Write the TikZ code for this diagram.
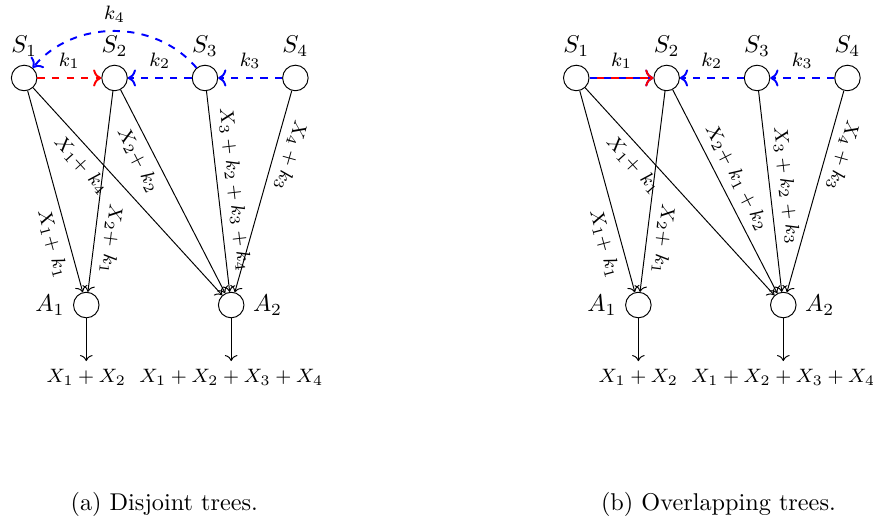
\documentclass[tikz,border=0pt]{standalone}
\usepackage{xcolor}
\usepackage{tikz}
\usetikzlibrary{arrows.meta, positioning}

\begin{document}
\begin{tikzpicture}[
    site/.style={circle, draw, minimum size=0.37cm, inner sep=0pt},
    flow/.style={->},
    link/.style={->, thick, dashed},
    klbl/.style={above, font=\footnotesize, text=black},
    lbl/.style={font=\footnotesize, sloped, allow upside down},
    result/.style={font=\footnotesize}
]
    \useasboundingbox (0,0) rectangle (12.65,7.59);

    % (a) disjoint trees
    \node[site, label=above:$S_1$] (ds1) at (0.35,6.46) {};
    \node[site, label=above:$S_2$] (ds2) at (1.66,6.46) {};
    \node[site, label=above:$S_3$] (ds3) at (2.97,6.46) {};
    \node[site, label=above:$S_4$] (ds4) at (4.28,6.46) {};
    \node[site, label=left:$A_1$] (da1) at (1.25,3.17) {};
    \node[site, label=right:$A_2$] (da2) at (3.35,3.17) {};
    \node[result, below=0.62cm of da1] (dy1) {$X_1 + X_2$};
    \node[result, below=0.62cm of da2] (dy2) {$X_1 + X_2 + X_3 + X_4$};

    \draw[link, red] (ds1) -- node[klbl] {$k_1$} (ds2);
    \draw[link, blue] (ds3) -- node[klbl] {$k_2$} (ds2);
    \draw[link, blue] (ds4) -- node[klbl] {$k_3$} (ds3);
    \draw[link, blue] (ds3) to[bend right=50] node[klbl] {$k_4$} (ds1);

    \draw[flow] (ds1) -- node[lbl, below, pos=0.74] {$X_1$+ $k_1$} (da1);
    \draw[flow] (ds1) -- node[lbl, below, pos=0.32] {$X_1$+ $k_4$} (da2);
    \draw[flow] (ds2) -- node[lbl, above, pos=0.73] {$X_2$+ $k_1$} (da1);
    \draw[flow] (ds2) -- node[lbl, below, pos=0.31] {$X_2$+ $k_2$} (da2);
    \draw[flow] (ds3) -- node[lbl, above, pos=0.5] {$X_3 + k_2 + k_3 + k_4$} (da2);
    \draw[flow] (ds4) -- node[lbl, above, pos=0.3] {$X_4 + k_3$} (da2);
    \draw[flow] (da1) -- (dy1);
    \draw[flow] (da2) -- (dy2);

    \node (dcap) at (2.38,0.28) {(a) Disjoint trees.};

    % (b) overlapping trees
    \begin{scope}[xshift=8cm]
    \node[site, label=above:$S_1$] (os1) at (0.35,6.46) {};
    \node[site, label=above:$S_2$] (os2) at (1.66,6.46) {};
    \node[site, label=above:$S_3$] (os3) at (2.97,6.46) {};
    \node[site, label=above:$S_4$] (os4) at (4.28,6.46) {};
    \node[site, label=left:$A_1$] (oa1) at (1.25,3.17) {};
    \node[site, label=right:$A_2$] (oa2) at (3.35,3.17) {};
    \node[result, below=0.62cm of oa1] (oy1) {$X_1 + X_2$};
    \node[result, below=0.62cm of oa2] (oy2) {$X_1 + X_2 + X_3 + X_4$};

    \draw[link, blue] (os1) -- (os2);
    \draw[link, red, dash phase=3pt] (os1) -- node[klbl] {$k_1$} (os2);
    \draw[link, blue] (os3) -- node[klbl] {$k_2$} (os2);
    \draw[link, blue] (os4) -- node[klbl] {$k_3$} (os3);

    \draw[flow] (os1) -- node[lbl, below, pos=0.74] {$X_1$+ $k_1$} (oa1);
    \draw[flow] (os1) -- node[lbl, below, pos=0.32] {$X_1$+ $k_1$} (oa2);
    \draw[flow] (os2) -- node[lbl, above, pos=0.73] {$X_2$+ $k_1$} (oa1);
    \draw[flow] (os2) -- node[lbl, above, pos=0.47] {$X_2$+ $k_1 + k_2$} (oa2);
    \draw[flow] (os3) -- node[lbl, above, pos=0.48] {$X_3 + k_2 + k_3$} (oa2);
    \draw[flow] (os4) -- node[lbl, above, pos=0.3] {$X_4 + k_3$} (oa2);
    \draw[flow] (oa1) -- (oy1);
    \draw[flow] (oa2) -- (oy2);

    \node (ocap) at (2.41,0.28) {(b) Overlapping trees.};
    \end{scope}
\end{tikzpicture}
\end{document}
